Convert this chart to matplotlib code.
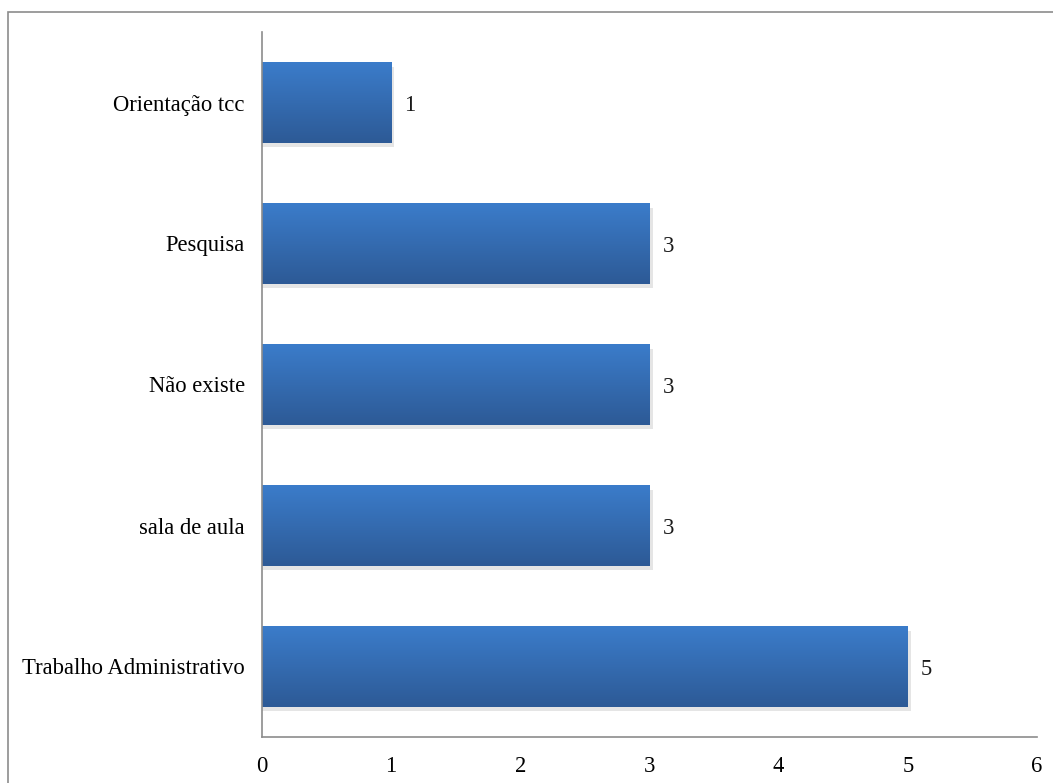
import numpy as np
import matplotlib.pyplot as plt
from matplotlib.colors import LinearSegmentedColormap
from matplotlib.patches import Rectangle

categorias = ["Trabalho Administrativo", "sala de aula", "Não existe", "Pesquisa", "Orientação tcc"]
valores = [5, 3, 3, 3, 1]
ticks_x = [0, 1, 2, 3, 4, 5, 6]

plt.rcParams["font.family"] = ["Liberation Serif", "DejaVu Serif"]

fig = plt.figure(figsize=(10.53, 7.83), dpi=100)
ax = fig.add_axes([262 / 1053, 1 - 737 / 783, 775 / 1053, 705 / 783])

# moldura externa do grafico (cortada a direita e embaixo)
fig.patches.append(Rectangle((8 / 1053, -0.5), 1.2, 1.5 - 12 / 783, transform=fig.transFigure,
                             fill=False, edgecolor="#8c8c8c", linewidth=1.2))

altura = 0.57
grad = LinearSegmentedColormap.from_list("azul", ["#2d5a96", "#3b7cca"])
y = np.arange(len(categorias))
for yi, v in zip(y, valores):
    # sombra leve
    ax.add_patch(Rectangle((0, yi - altura / 2 - 0.03), v + 0.025, altura, facecolor="#000000",
                           alpha=0.10, edgecolor="none", zorder=1))
    img = np.linspace(0, 1, 100).reshape(-1, 1)
    ax.imshow(img, cmap=grad, aspect="auto", origin="lower",
              extent=(0, v, yi - altura / 2, yi + altura / 2), zorder=2)
    ax.text(v + 0.1, yi - 0.02, str(v), va="center", ha="left", fontsize=16.3, color="#1a1a1a")

ax.set_xlim(0, 6)
ax.set_ylim(-0.5, len(categorias) - 0.5)
ax.set_xticks(ticks_x)
ax.set_xticklabels([str(t) for t in ticks_x], fontsize=16.3)
ax.set_yticks(y)
ax.set_yticklabels(categorias, fontsize=16.3)
ax.tick_params(axis="y", length=0, pad=12.5)
ax.tick_params(axis="x", length=0, pad=14)

for lado in ["top", "right"]:
    ax.spines[lado].set_visible(False)
for lado in ["left", "bottom"]:
    ax.spines[lado].set_color("#8c8c8c")
    ax.spines[lado].set_linewidth(1.2)

fig.savefig("out.png", dpi=100)
